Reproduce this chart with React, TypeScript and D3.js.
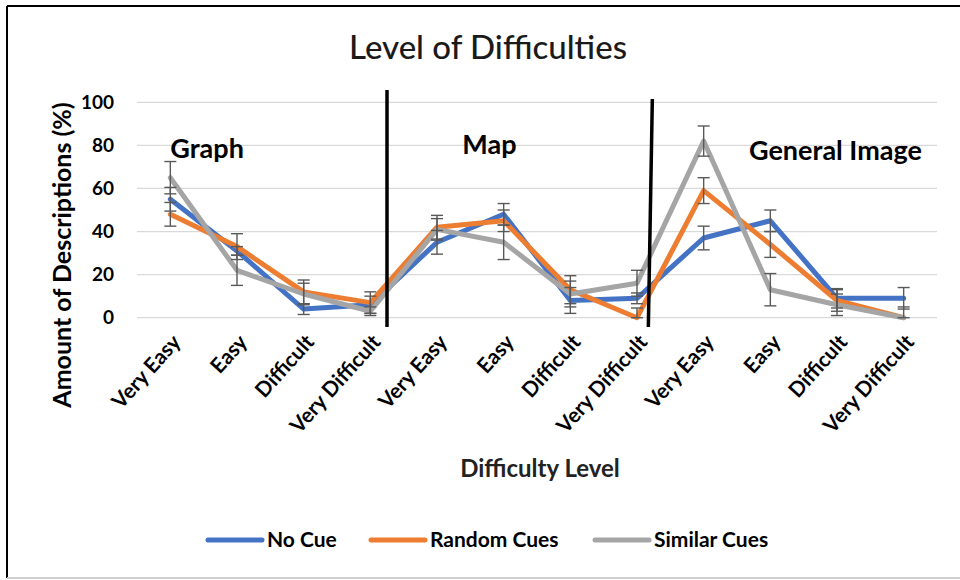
import React from "react";
import * as d3 from "d3";

const categories = [
  "Very Easy", "Easy", "Difficult", "Very Difficult",
  "Very Easy", "Easy", "Difficult", "Very Difficult",
  "Very Easy", "Easy", "Difficult", "Very Difficult",
];
const groupLabels = ["Graph", "Map", "General Image"];
const groupLabelPos = [0, 4.38, 8.68];
const groupLabelVal = [74, 76, 73];
const separators = [3.25, 7.2];

const noCue = [55, 31, 4, 6, 35, 48, 8, 9, 37, 45, 9, 9];
const randomCues = [48, 33, 12, 7, 42, 45, 13, 0, 59, 34, 8, 0];
const similarCues = [65, 22, 11, 3, 41, 35, 11, 16, 82, 13, 6, 0];

const errNoCue = [5.5, 2, 2.5, 4, 5.5, 5, 6, 2.5, 5.5, 5, 4.5, 5];
const errRandom = [5.5, 6, 5.5, 5, 5.5, 5, 6.5, 4.5, 6, 6, 5, 5];
const errSimilar = [7.5, 7, 5, 2, 5, 8, 6, 6, 7, 7.5, 5, 0];

const yTicks = [0, 20, 40, 60, 80, 100];

const seriesNames = ["No Cue", "Random Cues", "Similar Cues"];
const seriesColors = ["#4472C4", "#ED7D31", "#A5A5A5"];

const FONT = "Lato, 'Open Sans', sans-serif";

export default function App() {
  const W = 960, H = 580;
  const plotL = 137, plotR = 937, plotT = 102.3, plotB = 317.7;
  const x = d3.scalePoint<number>().domain(d3.range(categories.length)).range([plotL, plotR]).padding(0.5);
  const step = x.step();
  const xf = (i: number) => (x(0) as number) + i * step;
  const y = d3.scaleLinear().domain([0, 100]).range([plotB, plotT]);

  const series = [noCue, randomCues, similarCues];
  const errs = [errNoCue, errRandom, errSimilar];
  const line = d3.line<number>().x((_, i) => x(i) as number).y((d) => y(d));

  const legendX = [208, 371, 595];

  return (
    <svg width={W} height={H} style={{ position: "absolute", left: 0, top: 0, background: "#fff" }} fontFamily={FONT}>
      <rect x={0} y={0} width={W} height={H} fill="#fff" />
      {/* frame */}
      <line x1={7} y1={6} x2={W} y2={6} stroke="#000" strokeWidth={2} />
      <line x1={7} y1={6} x2={7} y2={578} stroke="#000" strokeWidth={2} />
      <line x1={7} y1={578} x2={W} y2={578} stroke="#d0d0d0" strokeWidth={2} />

      <text x={488} y={59} textAnchor="middle" fontSize={33} fill="#1a1a1a" fontWeight={500}>Level of Difficulties</text>

      {/* gridlines */}
      {yTicks.map((t) => (
        <line key={t} x1={plotL} x2={plotR} y1={y(t)} y2={y(t)} stroke="#d9d9d9" strokeWidth={1.3} />
      ))}
      {yTicks.map((t) => (
        <text key={"l" + t} x={114} y={y(t)} dy="0.35em" textAnchor="end" fontSize={19} fontWeight={700} fill="#000">{t}</text>
      ))}

      <text transform={`translate(62,255) rotate(-90)`} textAnchor="middle" dy="0.35em" fontSize={25} fontWeight={700} fill="#000">Amount of Descriptions (%)</text>

      {/* category labels */}
      {categories.map((c, i) => (
        <text key={"c" + i} transform={`translate(${(x(i) as number) + 6},${338}) rotate(-48)`} textAnchor="end" dy="0.35em" fontSize={21} fontWeight={700} fill="#000">{c}</text>
      ))}

      <text x={540} y={469} textAnchor="middle" dy="0.35em" fontSize={24} fontWeight={700} fill="#222">Difficulty Level</text>

      {/* group labels */}
      {groupLabels.map((g, i) => (
        <text key={g} x={xf(groupLabelPos[i])} y={y(groupLabelVal[i])} fontSize={27} fontWeight={700} fill="#000">{g}</text>
      ))}

      {/* lines */}
      {series.map((s, k) => (
        <path key={"s" + k} d={line(s) || ""} fill="none" stroke={seriesColors[k]} strokeWidth={5} strokeLinejoin="round" strokeLinecap="round" />
      ))}

      {/* error bars */}
      {series.map((s, k) =>
        s.map((v, i) => {
          const e = errs[k][i];
          if (e <= 0) return null;
          const cx = x(i) as number;
          const lo = y(Math.max(0, v - e));
          const hi = y(v + e);
          return (
            <g key={`e${k}-${i}`} stroke="#595959" strokeWidth={1.4}>
              <line x1={cx} x2={cx} y1={lo} y2={hi} />
              <line x1={cx - 6} x2={cx + 6} y1={hi} y2={hi} />
              <line x1={cx - 6} x2={cx + 6} y1={lo} y2={lo} />
            </g>
          );
        })
      )}

      {/* separators */}
      <line x1={xf(separators[0])} x2={xf(separators[0])} y1={90} y2={327} stroke="#000" strokeWidth={3.5} />
      <line x1={xf(separators[1]) + 2} x2={xf(separators[1]) - 2} y1={99} y2={327} stroke="#000" strokeWidth={3.5} />

      {/* legend */}
      {seriesNames.map((n, k) => (
        <g key={n}>
          <line x1={legendX[k]} x2={legendX[k] + 54} y1={540} y2={540} stroke={seriesColors[k]} strokeWidth={5} strokeLinecap="round" />
          <text x={legendX[k] + 59} y={540} dy="0.35em" fontSize={21} fontWeight={700} fill="#000">{n}</text>
        </g>
      ))}
    </svg>
  );
}
